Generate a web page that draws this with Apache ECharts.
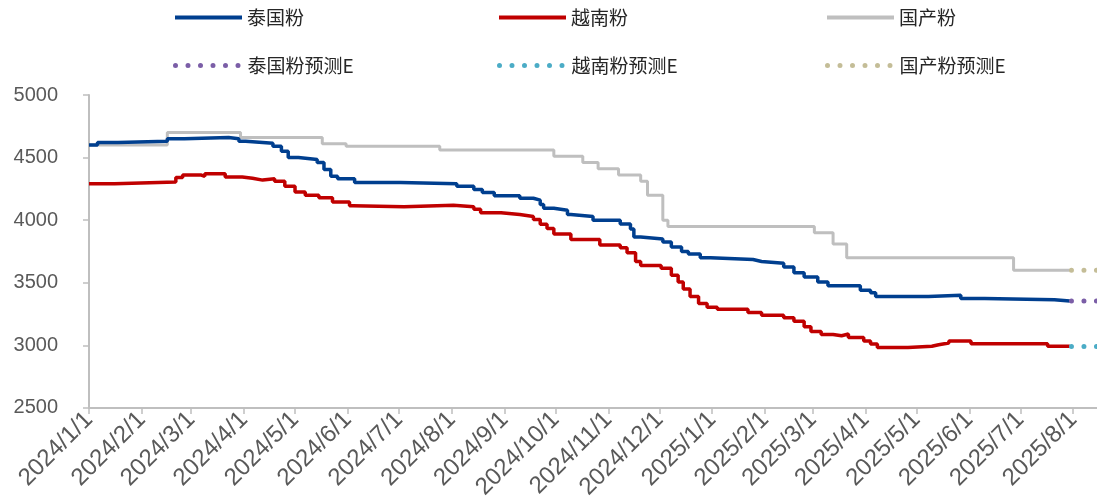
<!DOCTYPE html>
<html lang="zh">
<head>
  <meta charset="UTF-8">
  <title>泰国粉 越南粉 国产粉</title>
  <script src="https://cdn.jsdelivr.net/npm/echarts@6/dist/echarts.min.js"></script>
  <style>
    html, body { margin: 0; padding: 0; background: #fff; }
    #echarts { width: 1097px; height: 502px; }
  </style>
</head>
<body>
  <div id="echarts"></div>
</body>
</html>
<script>
  // 泰国粉 价格变动点 [日期, 价格]
  const thaiData = [
    ['2024-01-01', 4600], ['2024-01-06', 4620], ['2024-01-18', 4630], ['2024-02-16', 4650],
    ['2024-02-26', 4660], ['2024-03-23', 4650], ['2024-03-29', 4630], ['2024-04-02', 4615],
    ['2024-04-18', 4590], ['2024-04-23', 4550], ['2024-04-27', 4500], ['2024-05-03', 4485],
    ['2024-05-14', 4460], ['2024-05-18', 4405], ['2024-05-22', 4350], ['2024-05-26', 4330],
    ['2024-06-05', 4300], ['2024-07-02', 4290], ['2024-08-04', 4270], ['2024-08-14', 4245],
    ['2024-08-19', 4220], ['2024-08-26', 4195], ['2024-09-10', 4175], ['2024-09-18', 4160],
    ['2024-09-22', 4125], ['2024-09-24', 4095], ['2024-09-30', 4080], ['2024-10-08', 4045],
    ['2024-10-10', 4030], ['2024-10-23', 4000], ['2024-11-08', 3970], ['2024-11-14', 3930],
    ['2024-11-16', 3865], ['2024-11-20', 3850], ['2024-12-03', 3825], ['2024-12-08', 3785],
    ['2024-12-14', 3750], ['2024-12-18', 3730], ['2024-12-25', 3700], ['2024-12-31', 3685],
    ['2025-01-25', 3670], ['2025-01-30', 3655], ['2025-02-12', 3625], ['2025-02-18', 3580],
    ['2025-02-24', 3545], ['2025-03-04', 3505], ['2025-03-10', 3475], ['2025-03-29', 3440],
    ['2025-04-04', 3420], ['2025-04-07', 3390], ['2025-05-08', 3400], ['2025-05-27', 3375],
    ['2025-06-10', 3365], ['2025-07-21', 3355], ['2025-07-30', 3355]
  ];

  // 越南粉
  const vietData = [
    ['2024-01-01', 4290], ['2024-01-16', 4305], ['2024-02-21', 4340], ['2024-02-25', 4360],
    ['2024-03-07', 4350], ['2024-03-09', 4370], ['2024-03-21', 4345], ['2024-03-31', 4335],
    ['2024-04-06', 4320], ['2024-04-12', 4330], ['2024-04-19', 4310], ['2024-04-25', 4270],
    ['2024-05-01', 4225], ['2024-05-07', 4200], ['2024-05-15', 4180], ['2024-05-23', 4145],
    ['2024-06-02', 4115], ['2024-06-04', 4108], ['2024-07-04', 4120], ['2024-08-02', 4108],
    ['2024-08-14', 4087], ['2024-08-18', 4060], ['2024-08-30', 4045], ['2024-09-10', 4030],
    ['2024-09-18', 4005], ['2024-09-22', 3968], ['2024-09-26', 3934], ['2024-09-30', 3890],
    ['2024-10-10', 3845], ['2024-10-27', 3802], ['2024-11-08', 3780], ['2024-11-12', 3740],
    ['2024-11-17', 3670], ['2024-11-20', 3637], ['2024-12-02', 3615], ['2024-12-08', 3560],
    ['2024-12-12', 3505], ['2024-12-15', 3450], ['2024-12-19', 3390], ['2024-12-24', 3335],
    ['2024-12-29', 3305], ['2025-01-04', 3288], ['2025-01-22', 3262], ['2025-01-30', 3241],
    ['2025-02-12', 3220], ['2025-02-18', 3193], ['2025-02-24', 3148], ['2025-02-28', 3110],
    ['2025-03-06', 3087], ['2025-03-13', 3077], ['2025-03-18', 3090], ['2025-03-22', 3063],
    ['2025-03-31', 3034], ['2025-04-04', 3010], ['2025-04-08', 2982], ['2025-04-26', 2993],
    ['2025-05-10', 3005], ['2025-05-14', 3018], ['2025-05-20', 3035], ['2025-06-02', 3012],
    ['2025-07-17', 2992], ['2025-07-30', 2990]
  ];

  // 国产粉
  const domesticData = [
    ['2024-01-01', 4600], ['2024-02-16', 4700], ['2024-03-30', 4660], ['2024-05-17', 4610],
    ['2024-05-31', 4590], ['2024-07-25', 4560], ['2024-09-30', 4510], ['2024-10-17', 4460],
    ['2024-10-26', 4410], ['2024-11-07', 4360], ['2024-11-20', 4310], ['2024-11-24', 4200],
    ['2024-12-03', 4000], ['2024-12-06', 3950], ['2025-03-02', 3900], ['2025-03-13', 3810],
    ['2025-03-21', 3700], ['2025-06-27', 3600], ['2025-07-30', 3600]
  ];

  // 预测E
  const forecastDates = ['2025-07-31', '2025-08-15'];
  const thaiForecast = [3355, 3355];
  const vietForecast = [2990, 2990];
  const domesticForecast = [3600, 3600];

  const yTicks = { min: 2500, max: 5000, interval: 500 };

  function pairs(dates, vals) {
    return dates.map((d, i) => [d, vals[i]]);
  }

  const legendFont = { fontFamily: 'Noto Sans CJK SC', fontSize: 19, color: '#262626' };

  function legendAt(name, left, top, dotted) {
    return {
      data: [name],
      left: left,
      top: top,
      padding: 0,
      itemWidth: 67,
      itemHeight: 14,
      textStyle: legendFont,
      itemStyle: { opacity: 0 },
      lineStyle: { width: dotted ? 5 : 4 },
      selectedMode: false
    };
  }

  let myECharts = echarts.init(document.getElementById('echarts'));

  function solid(name, data, color, width) {
    return {
      name: name,
      type: 'line',
      step: 'end',
      data: data,
      showSymbol: false,
      symbol: 'none',
      lineStyle: { color: color, width: width },
      itemStyle: { color: color },
      animation: false
    };
  }

  function dotted(name, data, color) {
    return {
      name: name,
      type: 'line',
      data: data,
      showSymbol: false,
      symbol: 'none',
      lineStyle: { color: color, width: 5, type: [0, 12.5], cap: 'round' },
      itemStyle: { color: color },
      animation: false
    };
  }

  myECharts.setOption({
    backgroundColor: '#fff',
    legend: [
      legendAt('泰国粉', 173, 8),
      legendAt('越南粉', 497, 8),
      legendAt('国产粉', 825, 8),
      legendAt('泰国粉预测E', 173, 56, true),
      legendAt('越南粉预测E', 497, 56, true),
      legendAt('国产粉预测E', 825, 56, true)
    ],
    grid: { left: 89, right: 0, top: 95, bottom: 92 },
    xAxis: {
      type: 'time',
      min: '2024-01-01',
      max: '2025-08-15',
      minInterval: 28 * 24 * 3600 * 1000,
      maxInterval: 31 * 24 * 3600 * 1000,
      axisLine: { lineStyle: { color: '#bfbfbf', width: 2 } },
      axisTick: { show: true, length: 6, lineStyle: { color: '#bfbfbf', width: 1.5 } },
      splitLine: { show: false },
      axisLabel: {
        rotate: 45,
        fontFamily: 'Liberation Sans',
        fontSize: 24,
        color: '#595959',
        margin: 8,
        hideOverlap: false,
        showMaxLabel: false,
        formatter: function (v) {
          const d = new Date(v);
          return d.getFullYear() + '/' + (d.getMonth() + 1) + '/' + d.getDate();
        }
      }
    },
    yAxis: {
      type: 'value',
      min: yTicks.min,
      max: yTicks.max,
      interval: yTicks.interval,
      axisLine: { show: true, lineStyle: { color: '#bfbfbf', width: 2 } },
      axisTick: { show: true, length: 6, lineStyle: { color: '#bfbfbf', width: 1.5 } },
      splitLine: { show: false },
      axisLabel: {
        fontFamily: 'Liberation Sans',
        fontSize: 20,
        color: '#595959',
        margin: 31,
        formatter: function (v) { return String(v); }
      }
    },
    series: [
      solid('国产粉', domesticData, '#bfbfbf', 3),
      solid('越南粉', vietData, '#c00000', 3.5),
      solid('泰国粉', thaiData, '#003f8f', 3.5),
      dotted('泰国粉预测E', pairs(forecastDates, thaiForecast), '#7b5ea7'),
      dotted('越南粉预测E', pairs(forecastDates, vietForecast), '#4bacc6'),
      dotted('国产粉预测E', pairs(forecastDates, domesticForecast), '#c4bd97')
    ]
  });
</script>
